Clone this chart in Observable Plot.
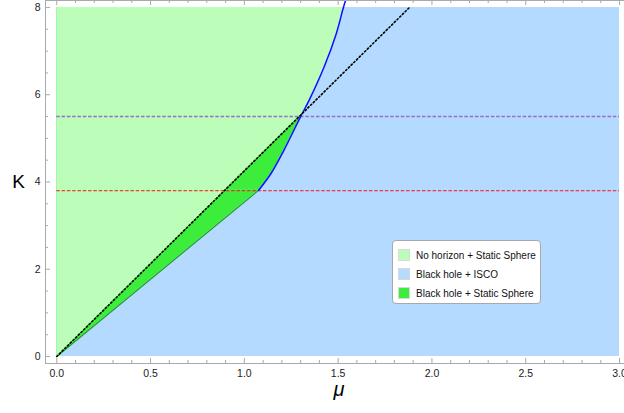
<!DOCTYPE html>
<html>
<head>
<meta charset="utf-8">
<script src="https://cdn.jsdelivr.net/npm/d3@7"></script>
<script src="https://cdn.jsdelivr.net/npm/@observablehq/plot@0.6"></script>
<style>
  html, body { margin: 0; padding: 0; background: white; }
  #wrap { position: relative; width: 624px; height: 413px; overflow: hidden; font-family: "Liberation Sans", Arial, sans-serif; }
  #wrap svg { overflow: hidden; }
  .legend { position: absolute; left: 392px; top: 240px; width: 149px; height: 64px; box-sizing: border-box;
    background: white; border: 1px solid #a8a8a8; border-radius: 4px; font-size: 10px; color: #111; }
  .legend .row { position: absolute; left: 5px; height: 12px; display: flex; align-items: center; white-space: nowrap; }
  .legend .sw { width: 12px; height: 12px; box-sizing: border-box; border: 1px solid #d8d8d8; margin-right: 6px; }
</style>
</head>
<body>
<div id="wrap"></div>
<script>
// ---- data ----
const regionNames = ["No horizon + Static Sphere", "Black hole + ISCO", "Black hole + Static Sphere"];
const regionColors = ["#bbfdb9", "#b4daff", "#3ced3c"];

// lower boundary: straight green segment
const greenMu = [0, 1.076];
const greenK  = [0, 3.81];
// lower boundary: blue curve
const blueMu = [1.076, 1.143, 1.210, 1.300, 1.345, 1.425, 1.490, 1.528, 1.540];
const blueK  = [3.81, 4.20, 4.72, 5.50, 5.87, 6.635, 7.40, 8.00, 8.165];
// dotted black line
const dottedMu = [0, 1.88];
const dottedK  = [0, 8];
// horizontal dashed lines
const redK = [3.8];
const purpleK = [5.5];
// plotted range
const muRange = [0, 3];
const kRange = [0, 8];

// ticks
const xMajor = [0, 0.5, 1, 1.5, 2, 2.5, 3];
const xMinor = [0.1,0.2,0.3,0.4,0.6,0.7,0.8,0.9,1.1,1.2,1.3,1.4,1.6,1.7,1.8,1.9,2.1,2.2,2.3,2.4,2.6,2.7,2.8,2.9];
const yMajor = [0, 2, 4, 6, 8];
const yMinor = [0.5,1,1.5,2.5,3,3.5,4.5,5,5.5,6.5,7,7.5];

const green = greenMu.map((m, i) => ({mu: m, K: greenK[i]}));
const blue = blueMu.map((m, i) => ({mu: m, K: blueK[i]}));
const blueIn = blue.filter(d => d.K <= kRange[1]);
const blueUpper = blueIn.filter(d => d.K >= purpleK[0]);
const dotted = dottedMu.map((m, i) => ({mu: m, K: dottedK[i]}));

const axisColor = "#a9a9a9";
const W = 624, H = 413, mL = 45, mB = 50, mT = 0, mR = 0;

const plot = Plot.plot({
  width: W, height: H,
  marginLeft: mL, marginRight: mR, marginTop: mT, marginBottom: mB,
  style: {fontFamily: '"Liberation Sans", Arial, sans-serif', background: "white"},
  x: {domain: [-0.06, 3.06], range: [45, 630.3], axis: null},
  y: {domain: [-0.16, 8.16], axis: null},
  marks: [
    // regions
    Plot.rect([0], {x1: muRange[0], x2: muRange[1], y1: kRange[0], y2: kRange[1], fill: regionColors[1]}),
    Plot.areaX(green, {y: "K", x1: 0, x2: "mu", fill: regionColors[2]}),
    Plot.areaX(blueIn, {y: "K", x1: 0, x2: "mu", fill: regionColors[2], curve: "catmull-rom"}),
    Plot.areaX(dotted, {y: "K", x1: 0, x2: "mu", fill: regionColors[0]}),
    Plot.areaX(blueUpper, {y: "K", x1: "mu", x2: muRange[1], fill: regionColors[1], curve: "catmull-rom"}),
    // dashed horizontal lines
    Plot.ruleY(redK, {x1: muRange[0], x2: muRange[1], stroke: "#ff1010", strokeWidth: 1, strokeDasharray: "3.5,1.8"}),
    Plot.ruleY(purpleK, {x1: muRange[0], x2: muRange[1], stroke: "#9060cc", strokeWidth: 1.6, strokeOpacity: 0.9, strokeDasharray: "3.5,1.8"}),
    // boundary lines
    Plot.line(green, {x: "mu", y: "K", stroke: "#1e9e1e", strokeWidth: 1.2}),
    Plot.line(blue, {x: "mu", y: "K", stroke: "#1010ff", strokeWidth: 1.5, curve: "catmull-rom"}),
    Plot.line(dotted, {x: "mu", y: "K", stroke: "#000", strokeWidth: 1.6, strokeDasharray: "1.4,2.4"}),
    // frame
    Plot.ruleX([-0.06], {stroke: axisColor}),
    Plot.ruleY([-0.16], {stroke: axisColor}),
    Plot.ruleY([8.16], {stroke: axisColor}),
    // ticks
    Plot.ruleX(xMajor, {stroke: axisColor, insetTop: 363 - 5}),
    Plot.ruleX(xMinor, {stroke: axisColor, insetTop: 363 - 3}),
    Plot.ruleX(xMajor, {stroke: axisColor, insetBottom: 363 - 5}),
    Plot.ruleX(xMinor, {stroke: axisColor, insetBottom: 363 - 3}),
    Plot.ruleY(yMajor, {stroke: axisColor, insetRight: (W - mR - mL) - 5}),
    Plot.ruleY(yMinor, {stroke: axisColor, insetRight: (W - mR - mL) - 3}),
    // tick labels
    Plot.axisX({ticks: xMajor, tickSize: 0, tickPadding: 6, tickFormat: d3.format(".1f"), fontSize: 10.5, color: "#222", label: null}),
    Plot.axisY({ticks: yMajor, tickSize: 0, tickPadding: 5, fontSize: 10.5, color: "#222", label: null}),
    // axis titles
    Plot.text(["K"], {frameAnchor: "left", dx: -27, textAnchor: "middle", fontSize: 19, fill: "#000"}),
    Plot.text(["μ"], {frameAnchor: "bottom", dx: 4, dy: 32, fontSize: 20, fontStyle: "italic", fill: "#000"})
  ]
});

const wrap = document.getElementById("wrap");
wrap.appendChild(plot);

// legend
const lg = document.createElement("div");
lg.className = "legend";
regionNames.forEach((name, i) => {
  const row = document.createElement("div");
  row.className = "row";
  row.style.top = (8 + i * 19) + "px";
  const sw = document.createElement("span");
  sw.className = "sw";
  sw.style.background = regionColors[i];
  const tx = document.createElement("span");
  tx.textContent = name;
  row.appendChild(sw); row.appendChild(tx);
  lg.appendChild(row);
});
wrap.appendChild(lg);
</script>
</body>
</html>
